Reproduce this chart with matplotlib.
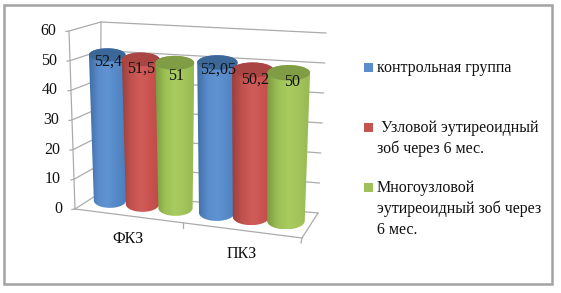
import numpy as np
import matplotlib
matplotlib.use('Agg')
import matplotlib.pyplot as plt
from matplotlib.colors import LinearSegmentedColormap
from matplotlib.patches import Rectangle, Polygon

# Data
groups = ['ФКЗ', 'ПКЗ']
series = ['контрольная группа',
          ' Узловой эутиреоидный\nзоб через 6 мес.',
          'Многоузловой\nэутиреоидный зоб через\n6 мес.']
control = [52.4, 52.05]
nodular = [51.5, 50.2]
multinodular = [51, 50]
value_labels = [['52,4', '52,05'], ['51,5', '50,2'], ['51', '50']]
y_ticks = [0, 10, 20, 30, 40, 50, 60]

colors = [['#3f6ea6', '#5a8ccb', '#5f93d2', '#5588c7', '#4a7fbe'],
          ['#9c403e', '#c2524f', '#d05c59', '#c9524f', '#ba4d4a'],
          ['#7d9a40', '#9dc056', '#a9cc60', '#a2c45b', '#97ba55']]
legend_colors = ['#5b8dcb', '#c4544f', '#a0c05c']
top_colors = ['#3c6899', '#a94543', '#809c45']
grid_c = '#ababab'
label_dy = [[7, 7], [9, 10], [13, 9]]
label_dx = [[1, 1], [0, 2], [1, 3]]
series_y = [67, 127, 187]

plt.rcParams['font.family'] = ['Liberation Serif', 'DejaVu Serif']
plt.rcParams['font.size'] = 11.5

fig = plt.figure(figsize=(5.61, 2.93), dpi=100)
ax = fig.add_axes([0, 0, 1, 1])


# fake perspective of the excel 3d chart
def bar_x(x):
    return 87 + 106 * x + 3 * x ** 2


def bar_y(px, v):
    floor = 199.5 + 0.112 * (px - 107)
    return floor - v * (2.76 + 0.001 * (px - 107))


def lerp(a, b, t):
    return a + (b - a) * t


def wall(p0, p60, v):
    return lerp(p0[0], p60[0], v / 60), lerp(p0[1], p60[1], v / 60)


front_left = ((75, 209), (69, 31))
back_left = ((100, 193), (101, 22))
back_right = ((318, 213), (326, 33))
front_right = (302, 238)

ax.add_patch(Rectangle((4.5, 4.5), 548, 279, fc='white', ec='#a3a3a3', lw=1.8, zorder=0))

# walls and grid
for v in y_ticks:
    x0, y0 = wall(*front_left, v)
    x1, y1 = wall(*back_left, v)
    x2, y2 = wall(*back_right, v)
    ax.plot([x0 - 3, x0, x1, x2], [y0 + 0.5, y0, y1, y2], color=grid_c, lw=0.9, zorder=1)
    ax.text(x0 - 13, y0, str(v), ha='right', va='center', color='#111111')
ax.plot(*zip(front_left[0], front_left[1]), color=grid_c, lw=0.9, zorder=1)
ax.plot(*zip(back_left[0], back_left[1]), color=grid_c, lw=0.9, zorder=1)
ax.plot(*zip(front_left[0], front_right, back_right[0]), color=grid_c, lw=0.9, zorder=1)
ax.plot([183, 183], [223, 228], color=grid_c, lw=0.9, zorder=1)
ax.plot([302, 301], [238, 243], color=grid_c, lw=0.9, zorder=1)

# cylinders, left to right so the later ones overlap the earlier ones
t = np.linspace(0, np.pi, 40)
th = np.linspace(0, 2 * np.pi, 60)
offsets = [-0.31, 0, 0.31]
for g in range(len(groups)):
    for i, vals in enumerate([control, nodular, multinodular]):
        z = 2 + g * 3 + i
        cmap = LinearSegmentedColormap.from_list('c%d' % i, colors[i])
        px = bar_x(g + 0.5 + offsets[i])
        rx = 18.3 + 0.017 * (px - 107)
        ry = 0.36 * rx
        top = bar_y(px, vals[g])
        bottom = bar_y(px, 0) + 1
        # bottom is narrower and leans to the middle of the chart
        px_b = px + (197 - px) * 0.03
        rx_b = rx * 0.88
        ry_b = rx * 0.4
        outline = np.vstack([
            np.column_stack([px_b - rx_b * np.cos(t), bottom + ry_b * np.sin(t)]),
            np.column_stack([px + rx * np.cos(t), top - ry * np.sin(t)]),
        ])
        body = Polygon(outline, closed=True, fc='none', ec='none', zorder=z)
        ax.add_patch(body)
        img = ax.imshow(np.linspace(0, 1, 64).reshape(1, -1), cmap=cmap, aspect='auto',
                        extent=(px - rx, px + rx, bottom + ry_b, top - ry), zorder=z)
        img.set_clip_path(body)
        ax.fill(px + rx * np.cos(th), top + ry * np.sin(th), color=top_colors[i], lw=0, zorder=z + 0.5)
        ax.text(px + label_dx[i][g], top + label_dy[i][g], value_labels[i][g], ha='center', va='center',
                color='#111111', zorder=20)

for g, name in enumerate(groups):
    ax.text(128 + 114 * g, 239 + 15 * g, name, ha='center', va='center', color='#111111')

# legend
for i, name in enumerate(series):
    ax.add_patch(Rectangle((364, series_y[i] - 4.5), 9, 9, fc=legend_colors[i], ec='none'))
    ax.text(377, series_y[i] - 7, name, ha='left', va='top', color='#111111', linespacing=1.38)

ax.set_xlim(0, 561)
ax.set_ylim(293, 0)
ax.axis('off')

fig.savefig('out.png', dpi=100)
